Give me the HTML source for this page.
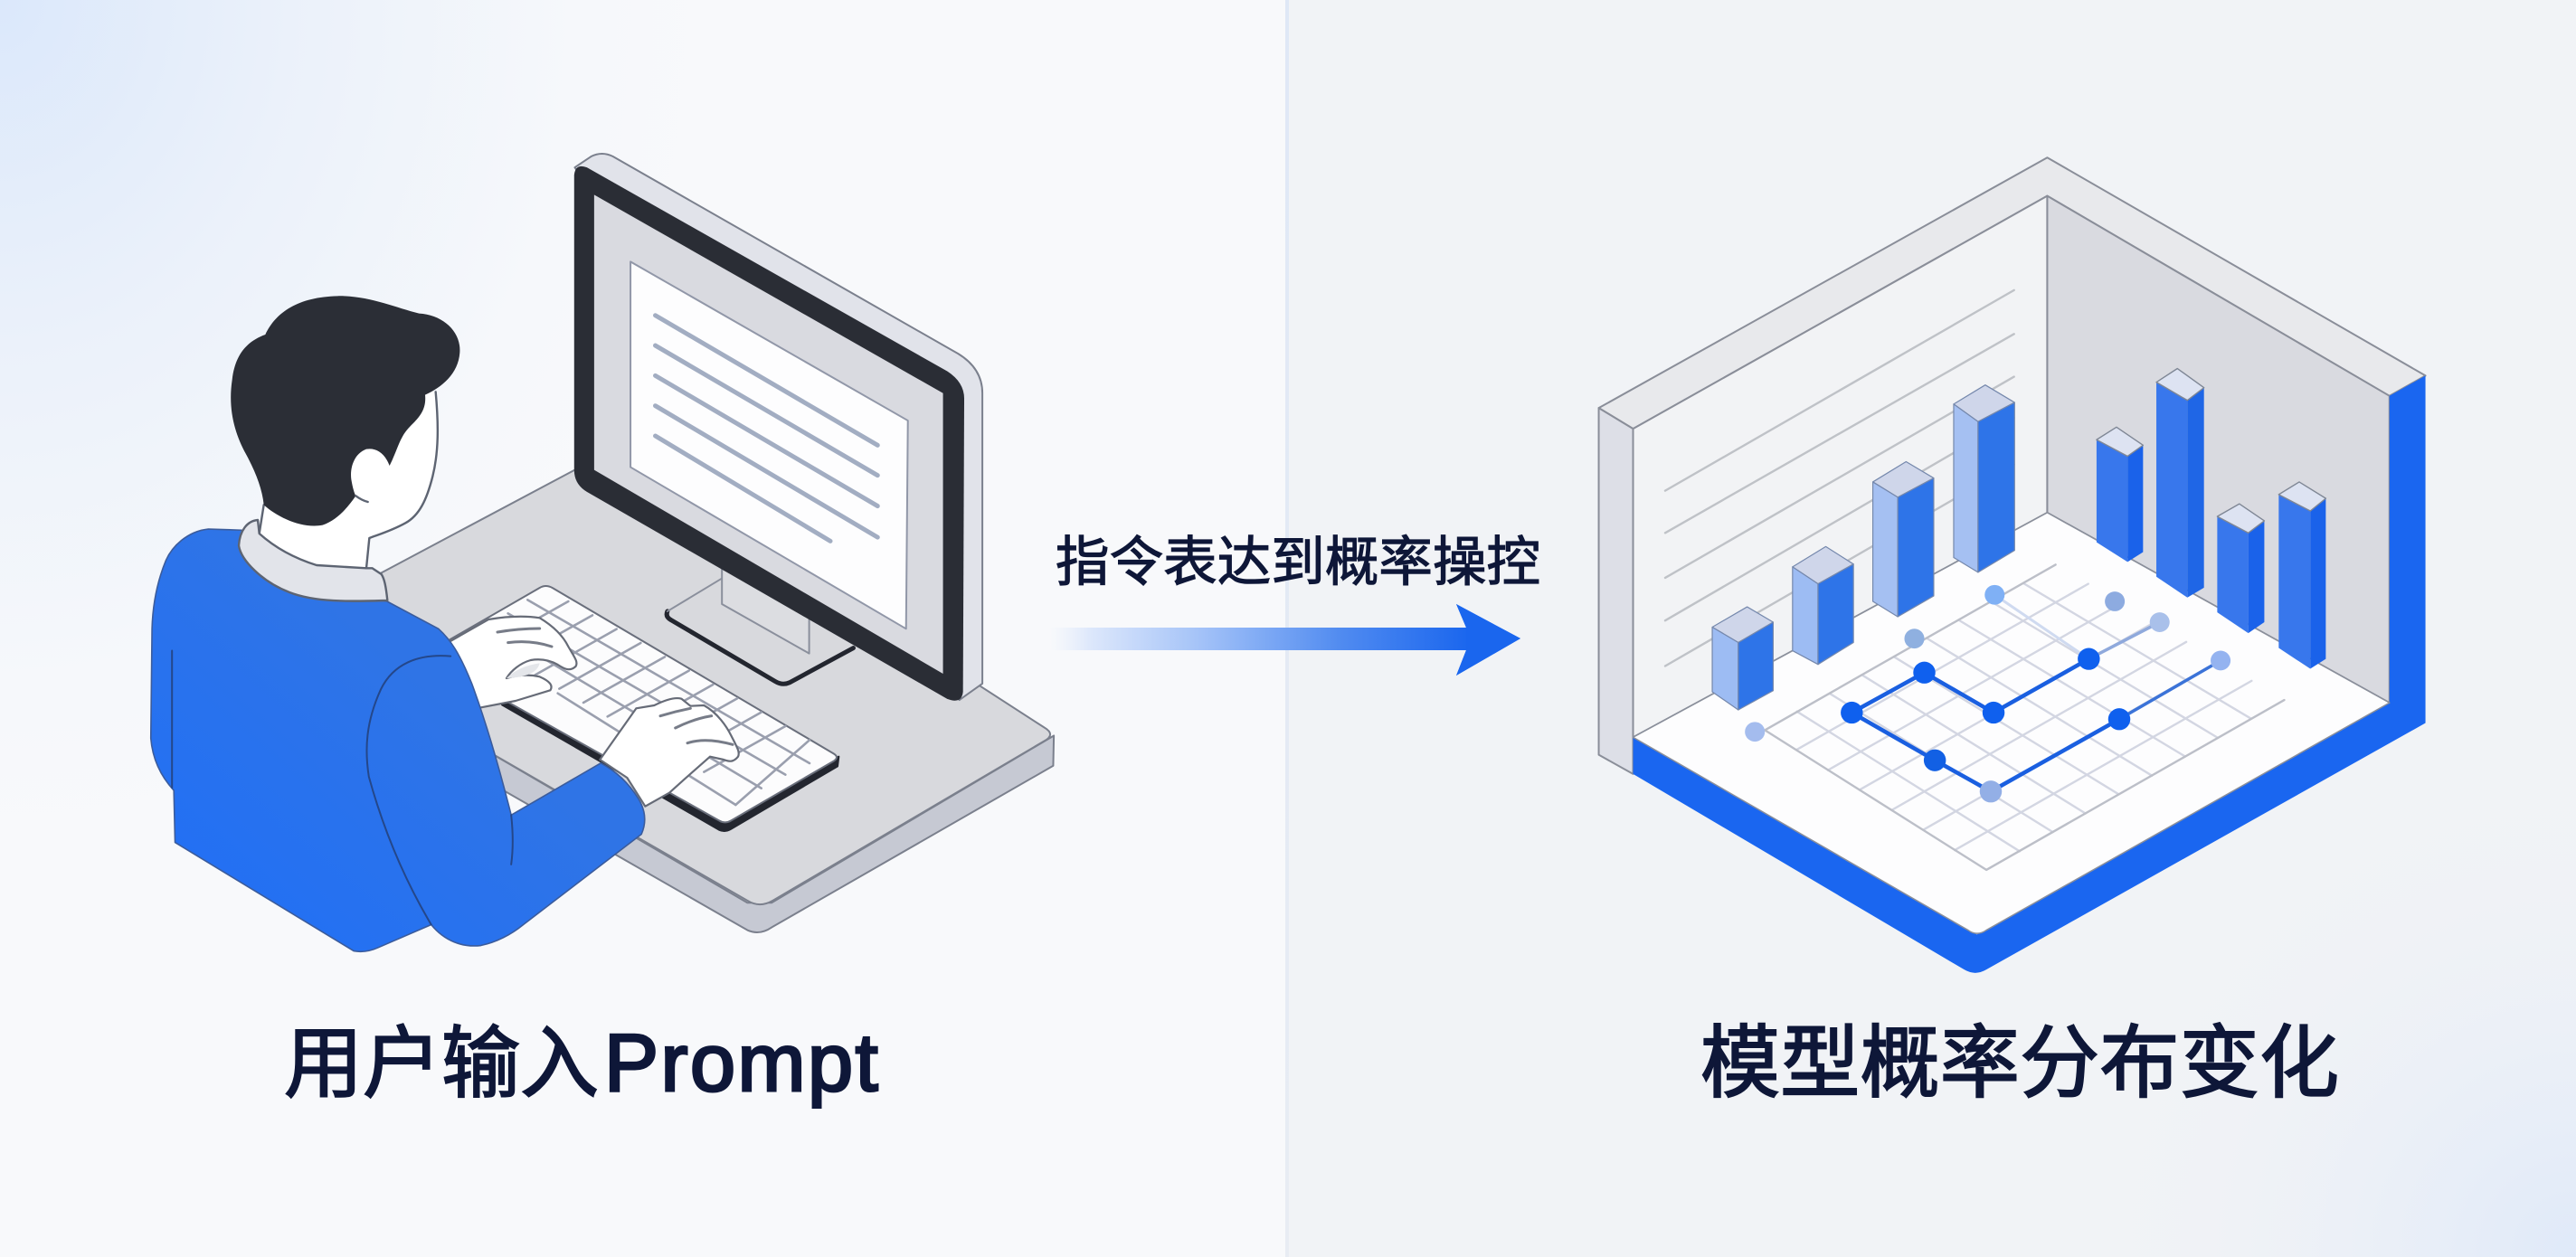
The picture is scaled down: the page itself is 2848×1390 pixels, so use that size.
<!DOCTYPE html>
<html lang="zh">
<head>
<meta charset="utf-8">
<title>指令表达到概率操控</title>
<style>
html,body{margin:0;padding:0;background:#f8f9fb}
svg{display:block}
svg *{vector-effect:non-scaling-stroke}
text{font-family:"Liberation Sans","Noto Sans CJK SC",sans-serif;fill:#0e1738;stroke:#0e1738}
</style>
</head>
<body>
<svg xmlns="http://www.w3.org/2000/svg" width="2848" height="1390" viewBox="0 0 2848 1390">
<defs>
<radialGradient id="glowL" gradientUnits="userSpaceOnUse" cx="0" cy="0" r="1" gradientTransform="scale(800 950)">
<stop offset="0" stop-color="#dbe8fb"/><stop offset=".4" stop-color="#ebf1fa"/><stop offset=".8" stop-color="#f6f8fb"/><stop offset="1" stop-color="#f8f9fb"/>
</radialGradient>
<radialGradient id="glowR" gradientUnits="userSpaceOnUse" cx="2848" cy="1390" r="560">
<stop offset="0" stop-color="#dfe9f9"/><stop offset="1" stop-color="#f1f3f6" stop-opacity="0"/>
</radialGradient>
<linearGradient id="div" x1="0" y1="0" x2="0" y2="1">
<stop offset="0" stop-color="#dfe8f6"/><stop offset="1" stop-color="#e8ecf3"/>
</linearGradient>
<linearGradient id="arrow" gradientUnits="userSpaceOnUse" x1="1160" y1="0" x2="1625" y2="0">
<stop offset="0" stop-color="#e6eefb" stop-opacity="0"/><stop offset=".1" stop-color="#dce7fb"/><stop offset=".35" stop-color="#a6c4f8"/><stop offset=".7" stop-color="#4f8af0"/><stop offset="1" stop-color="#1a66ee"/>
</linearGradient>
<linearGradient id="shirt" x1="0" y1="1" x2="1" y2="0">
<stop offset="0" stop-color="#1f6ff8"/><stop offset=".6" stop-color="#2f74e6"/><stop offset="1" stop-color="#2f73e4"/>
</linearGradient>
</defs>

<!-- background -->
<rect width="2848" height="1390" fill="#f8f9fb"/>
<rect width="1424" height="1390" fill="url(#glowL)"/>
<rect x="1424" width="1424" height="1390" fill="#f1f3f6"/>
<rect x="1424" width="1424" height="1390" fill="url(#glowR)"/>
<rect x="1421" width="4" height="1390" fill="url(#div)"/>

<!-- LEFT ILLUSTRATION -->
<g transform="translate(150,150) scale(.6696,.6059)" stroke-linejoin="round" stroke-linecap="round">
  <!-- desk -->
  <path d="M560,1110 L1010,1400 L1050,1400 L1516,1095 L1515,1150 L1050,1445 Q1030,1460 1010,1450 L560,1165 Z" fill="#c6c9d3" stroke="#7b808d" stroke-width="2"/>
  <path d="M725,610 L300,860 L560,1110 L1010,1396 Q1030,1410 1052,1396 L1500,1105 Q1520,1093 1500,1080 L1395,1005 Z" fill="#d8d9dd" stroke="#7b808d" stroke-width="2"/>
  <!-- stand -->
  <path d="M878,868 L968,808 L1185,935 L1080,998 Q1068,1004 1056,996 L884,884 Q874,876 878,868 Z" fill="#d8d9dd"/>
  <path d="M878,868 Q874,878 884,884 L1056,996 Q1068,1004 1080,998 L1185,935" fill="none" stroke="#23262f" stroke-width="5"/>
  <path d="M878,868 L968,808" fill="none" stroke="#8a8f9c" stroke-width="2"/>
  <path d="M968,790 L968,855 L1112,945 L1112,870 Z" fill="#dcdde1" stroke="#8a8f9c" stroke-width="2"/>
  <!-- monitor back/rim -->
  <path d="M725,58 L752,38 Q770,28 788,38 L1358,398 Q1398,425 1398,470 L1398,1000 L1360,1030 Z" fill="#e1e3ea" stroke="#7b808d" stroke-width="2"/>
  <!-- monitor front -->
  <path d="M745,58 L1340,430 Q1368,450 1368,480 L1366,1015 Q1364,1038 1340,1028 L745,650 Q724,636 724,610 L724,72 Q726,50 745,58 Z" fill="#2a2d35"/>
  <path d="M757,108 L1333,470 L1333,982 L757,610 Z" fill="#d9dae0"/>
  <path d="M817,230 L1275,520 L1272,900 L817,605 Z" fill="#fdfdfe" stroke="#9197a8" stroke-width="2"/>
  <g fill="none" stroke="#a2adc2" stroke-width="5">
    <path d="M858,328 L1225,565"/><path d="M858,383 L1225,620"/><path d="M858,438 L1225,676"/><path d="M858,493 L1225,733"/><path d="M858,548 L1147,740"/>
  </g>
</g>

<!-- keyboard + hands (true 3x coords) -->
<g transform="translate(480,620) scale(.33333)" stroke-linejoin="round" stroke-linecap="round">
  <path d="M225,478 L945,893 Q965,902 985,890 L1338,682 L1342,650 L965,860 L240,455 Z" fill="#23262f" stroke="#23262f" stroke-width="2"/>
  <path d="M-35,312 L350,90 Q370,78 392,90 L1325,640 Q1345,652 1325,665 L985,862 Q965,874 945,862 Z" fill="#fcfcfd" stroke="#6a6f7c" stroke-width="2"/>
  <g fill="none" stroke="#9a9fae" stroke-width="2.6">
    <path d="M310,130 L1245,672"/><path d="M245,175 L1165,710"/><path d="M180,215 L1085,755"/><path d="M410,440 L1000,810"/>
    <path d="M445,135 L175,287"/><path d="M525,181 L255,333"/><path d="M605,227 L335,379"/><path d="M685,273 L415,425"/><path d="M765,319 L495,471"/><path d="M845,365 L575,517"/><path d="M925,411 L655,563"/><path d="M1005,457 L735,609"/><path d="M1085,503 L815,655"/><path d="M1165,549 L895,701"/><path d="M1245,595 L1000,810"/>
  </g>
  <!-- left hand -->
  <path d="M40,275 L180,195 C240,185 300,182 350,190 C400,220 430,255 445,285 C465,320 478,335 470,350 C450,370 430,358 410,345 C380,328 350,325 320,330 C285,340 255,365 240,390 C280,378 320,378 350,385 C385,400 395,415 385,430 L270,465 L140,490 Z" fill="#fff" stroke="#666b77" stroke-width="2.2"/>
  <path d="M240,390 Q280,350 350,340 Q340,385 240,390 Z" fill="#e4e6ea"/>
  <g fill="none" stroke="#777c88" stroke-width="3">
    <path d="M210,237 Q280,225 350,225"/><path d="M245,272 Q320,262 390,285"/>
  </g>
  <!-- right hand -->
  <path d="M550,660 L670,490 L730,480 C770,460 800,452 820,458 L850,482 L895,480 C940,505 970,550 985,580 C1005,620 1015,635 1008,650 C990,672 975,665 960,660 L915,650 L830,725 L780,770 L700,815 L640,720 Z" fill="#fff" stroke="#666b77" stroke-width="2.2"/>
  <g fill="none" stroke="#777c88" stroke-width="3">
    <path d="M750,515 Q800,500 850,490"/><path d="M800,555 Q860,525 920,515"/><path d="M840,605 Q900,585 990,610"/>
  </g>
</g>

<!-- person body -->
<g transform="translate(150,150) scale(.6696,.6059)" stroke-linejoin="round" stroke-linecap="round">
  <path d="M175,720 L120,718 C85,722 60,750 50,775 C35,815 28,860 27,900 L25,1100 C28,1140 42,1170 63,1195 L65,1290 L360,1488 Q380,1492 400,1482 L488,1440 C510,1470 540,1482 570,1478 C595,1472 620,1458 640,1440 L835,1275 C845,1250 840,1228 830,1210 C812,1178 790,1158 768,1145 L620,1240 C595,1130 575,1060 555,1000 C535,945 520,920 500,900 L415,850 L215,810 Z" fill="url(#shirt)" stroke="#3b5c9c" stroke-width="1.6"/>
  <g fill="none" stroke="#24478a" stroke-width="2">
    <path d="M520,950 C465,945 425,965 405,1010 C380,1070 378,1120 385,1170 C410,1270 445,1360 488,1440"/>
    <path d="M620,1240 Q625,1290 620,1330"/>
    <path d="M60,940 L60,1190"/>
  </g>
</g>

<!-- head (true 3x coords) -->
<g transform="translate(240,320) scale(.33333)" stroke-linejoin="round" stroke-linecap="round">
  <path d="M155,715 L140,810 C190,855 250,890 330,915 L495,925 L505,825 C540,812 580,800 625,775 C670,750 695,700 715,620 C735,540 735,450 725,340 L400,300 Z" fill="#fff"/>
  <path d="M725,340 C735,450 735,540 715,620 C695,700 670,750 625,775 C580,800 540,812 505,825 L495,925 M155,715 L140,810" fill="none" stroke="#5d6472" stroke-width="2.4"/>
  <!-- collar -->
  <path d="M135,765 C100,768 75,800 72,850 C80,900 150,970 240,1005 C330,1040 450,1035 565,1032 C560,985 555,960 545,945 L515,925 L495,925 L330,915 C250,890 190,855 140,810 Z" fill="#e2e4ea" stroke="#5d6472" stroke-width="2.4"/>
  <!-- hair -->
  <path d="M155,715 C150,660 125,600 95,545 C60,480 35,400 50,300 C60,210 105,170 160,150 C195,75 270,25 400,22 C500,20 590,60 670,80 C750,85 810,140 805,210 C800,280 745,325 690,350 C695,400 670,425 640,455 C605,490 600,530 572,585 C555,540 525,525 495,530 C455,545 440,590 445,630 C450,660 455,675 460,685 C425,735 395,765 350,782 C280,795 200,755 155,715 Z" fill="#2b2e36"/>
  <path d="M460,685 Q480,700 500,705" fill="none" stroke="#5d6472" stroke-width="2.4"/>
</g>

<!-- ARROW -->
<path d="M1160,694 L1621,694 L1610,668 L1681,706 L1610,747 L1621,719 L1160,719 Z" fill="url(#arrow)"/>
<path d="M1610,668 L1681,706 L1610,747 L1621,719 L1621,694 Z" fill="#1a66ee"/>

<!-- RIGHT ILLUSTRATION -->
<g transform="translate(1740,150) scale(.6122,.6059)" stroke-linejoin="round" stroke-linecap="round">
  <path d="M45,497 L855,40 L1538,438 L1473,475 L855,110 L107,535 Z" fill="#e8e9ec" stroke="#8a8e99" stroke-width="2"/>
  <path d="M107,535 L855,110 L855,688 L107,1098 Z" fill="#f2f3f5" stroke="#8a8e99" stroke-width="2"/>
  <path d="M855,110 L1473,475 L1473,1035 L855,688 Z" fill="#d9dae0" stroke="#8a8e99" stroke-width="2"/>
  <path d="M45,497 L107,535 L107,1165 L45,1130 Z" fill="#dddfe7" stroke="#8a8e99" stroke-width="2"/>
  <g fill="none" stroke="#bfc2c7" stroke-width="2.4">
    <path d="M165,648 L795,282"/><path d="M165,725 L795,362"/><path d="M165,807 L795,440"/><path d="M165,885 L795,515"/><path d="M165,968 L795,600"/>
  </g>
  <!-- blue base -->
  <path d="M1473,475 L1538,438 L1538,1072 L745,1522 Q725,1534 705,1522 L107,1165 L107,1098 L728,1458 L1473,1035 Z" fill="#1a66f0"/>
  <!-- floor -->
  <path d="M107,1098 L855,688 L1473,1035 L745,1450 Q728,1462 712,1450 Z" fill="#fdfdfe" stroke="#8a8f9b" stroke-width="1.5"/>
  <!-- grid -->
  <g fill="none" stroke="#d3d6e2" stroke-width="2.4">
    <path d="M402,1121 L929,818"/><path d="M459,1158 L988,854"/><path d="M516,1194 L1047,889"/><path d="M574,1231 L1106,924"/><path d="M631,1267 L1165,959"/><path d="M688,1304 L1224,995"/>
    <path d="M403,1051 L805,1306"/><path d="M462,1018 L865,1271"/><path d="M520,984 L924,1237"/><path d="M578,951 L984,1202"/><path d="M637,917 L1044,1168"/><path d="M695,884 L1104,1133"/><path d="M753,850 L1163,1099"/><path d="M812,817 L1223,1064"/>
  </g>
  <path d="M345,1085 L870,783 M345,1085 L745,1340 L1283,1030" fill="none" stroke="#bcbfc8" stroke-width="2.4"/>
  <!-- left bars -->
  <g stroke="#7588ac" stroke-width="1.2">
    <path d="M250,897 L313,860 L360,888 L297,925 Z" fill="#cfd6ea"/>
    <path d="M250,897 L297,925 L297,1048 L250,1015 Z" fill="#9dbcf3"/>
    <path d="M297,925 L360,888 L360,1013 L297,1048 Z" fill="#2e74e8"/>
    <path d="M395,787 L455,750 L505,782 L441,818 Z" fill="#cfd6ea"/>
    <path d="M395,787 L441,818 L441,965 L395,940 Z" fill="#9dbcf3"/>
    <path d="M441,818 L505,782 L505,925 L441,965 Z" fill="#2e74e8"/>
    <path d="M540,632 L600,595 L650,625 L585,660 Z" fill="#cfd6ea"/>
    <path d="M540,632 L585,660 L585,878 L540,850 Z" fill="#a5c0f2"/>
    <path d="M585,660 L650,625 L650,840 L585,878 Z" fill="#2e74e8"/>
    <path d="M686,490 L743,455 L796,487 L730,522 Z" fill="#cfd6ea"/>
    <path d="M686,490 L730,522 L730,797 L686,770 Z" fill="#a5c0f2"/>
    <path d="M730,522 L796,487 L796,757 L730,797 Z" fill="#2e74e8"/>
  </g>
  <g stroke-width="0">
    <!-- right bars -->
    <path d="M944,555 L1000,585 L1000,778 L944,742 Z" fill="#3877ec"/>
    <path d="M1000,585 L1028,565 L1028,760 L1000,778 Z" fill="#1a62ea"/>
    <path d="M1052,450 L1108,483 L1108,843 L1052,805 Z" fill="#3877ec"/>
    <path d="M1108,483 L1138,460 L1138,825 L1108,843 Z" fill="#1f66e6"/>
    <path d="M1162,695 L1218,725 L1218,908 L1162,870 Z" fill="#3877ec"/>
    <path d="M1218,725 L1247,703 L1247,888 L1218,908 Z" fill="#1a62ea"/>
    <path d="M1273,655 L1330,685 L1330,973 L1273,935 Z" fill="#3877ec"/>
    <path d="M1330,685 L1358,662 L1358,955 L1330,973 Z" fill="#1a62ea"/>
  </g>
  <g stroke="#7f8795" stroke-width="1.4" fill="#dde3f2">
    <path d="M944,555 L980,532 L1028,565 L1000,585 Z"/>
    <path d="M1052,450 L1090,425 L1138,460 L1108,483 Z"/>
    <path d="M1162,695 L1202,672 L1247,703 L1218,725 Z"/>
    <path d="M1273,655 L1310,632 L1358,662 L1330,685 Z"/>
  </g>
  <!-- path -->
  <path d="M760,838 L930,955" fill="none" stroke="#cfdaf0" stroke-width="3"/>
  <path d="M1058,888 L930,955" fill="none" stroke="#8fa9dc" stroke-width="3.5"/>
  <path d="M930,955 L758,1053 L633,980 L502,1053 L652,1140 L753,1197 L985,1065" fill="none" stroke="#1a5fe0" stroke-width="4.5"/>
  <path d="M985,1065 L1168,958" fill="none" stroke="#3b73d8" stroke-width="3.5"/>
  <g>
    <circle cx="327" cy="1088" r="18" fill="#a4bcee"/>
    <circle cx="615" cy="918" r="18" fill="#8fb0e0"/>
    <circle cx="760" cy="838" r="18" fill="#7fb0f5"/>
    <circle cx="977" cy="850" r="18" fill="#8dabe0"/>
    <circle cx="1058" cy="888" r="18" fill="#a9c0ea"/>
    <circle cx="1168" cy="958" r="18" fill="#94b3f0"/>
    <circle cx="753" cy="1197" r="20" fill="#93afe6"/>
    <circle cx="502" cy="1053" r="20" fill="#0f60ee"/>
    <circle cx="633" cy="980" r="20" fill="#0f60ee"/>
    <circle cx="758" cy="1053" r="20" fill="#0f60ee"/>
    <circle cx="930" cy="955" r="20" fill="#0f60ee"/>
    <circle cx="985" cy="1065" r="20" fill="#0f60ee"/>
    <circle cx="652" cy="1140" r="20" fill="#1260e4"/>
  </g>
</g>

<!-- TEXT -->
<text x="1167" y="642" font-size="59.5" stroke-width="1.2" textLength="536" lengthAdjust="spacing">指令表达到概率操控</text>
<text x="314" y="1206" font-size="87" stroke-width="2">用户输入</text>
<text x="668" y="1206" font-size="90" stroke-width="3" letter-spacing="2.5">Prompt</text>
<text x="1880" y="1206" font-size="88" stroke-width="2" textLength="706" lengthAdjust="spacing">模型概率分布变化</text>
</svg>
</body>
</html>
